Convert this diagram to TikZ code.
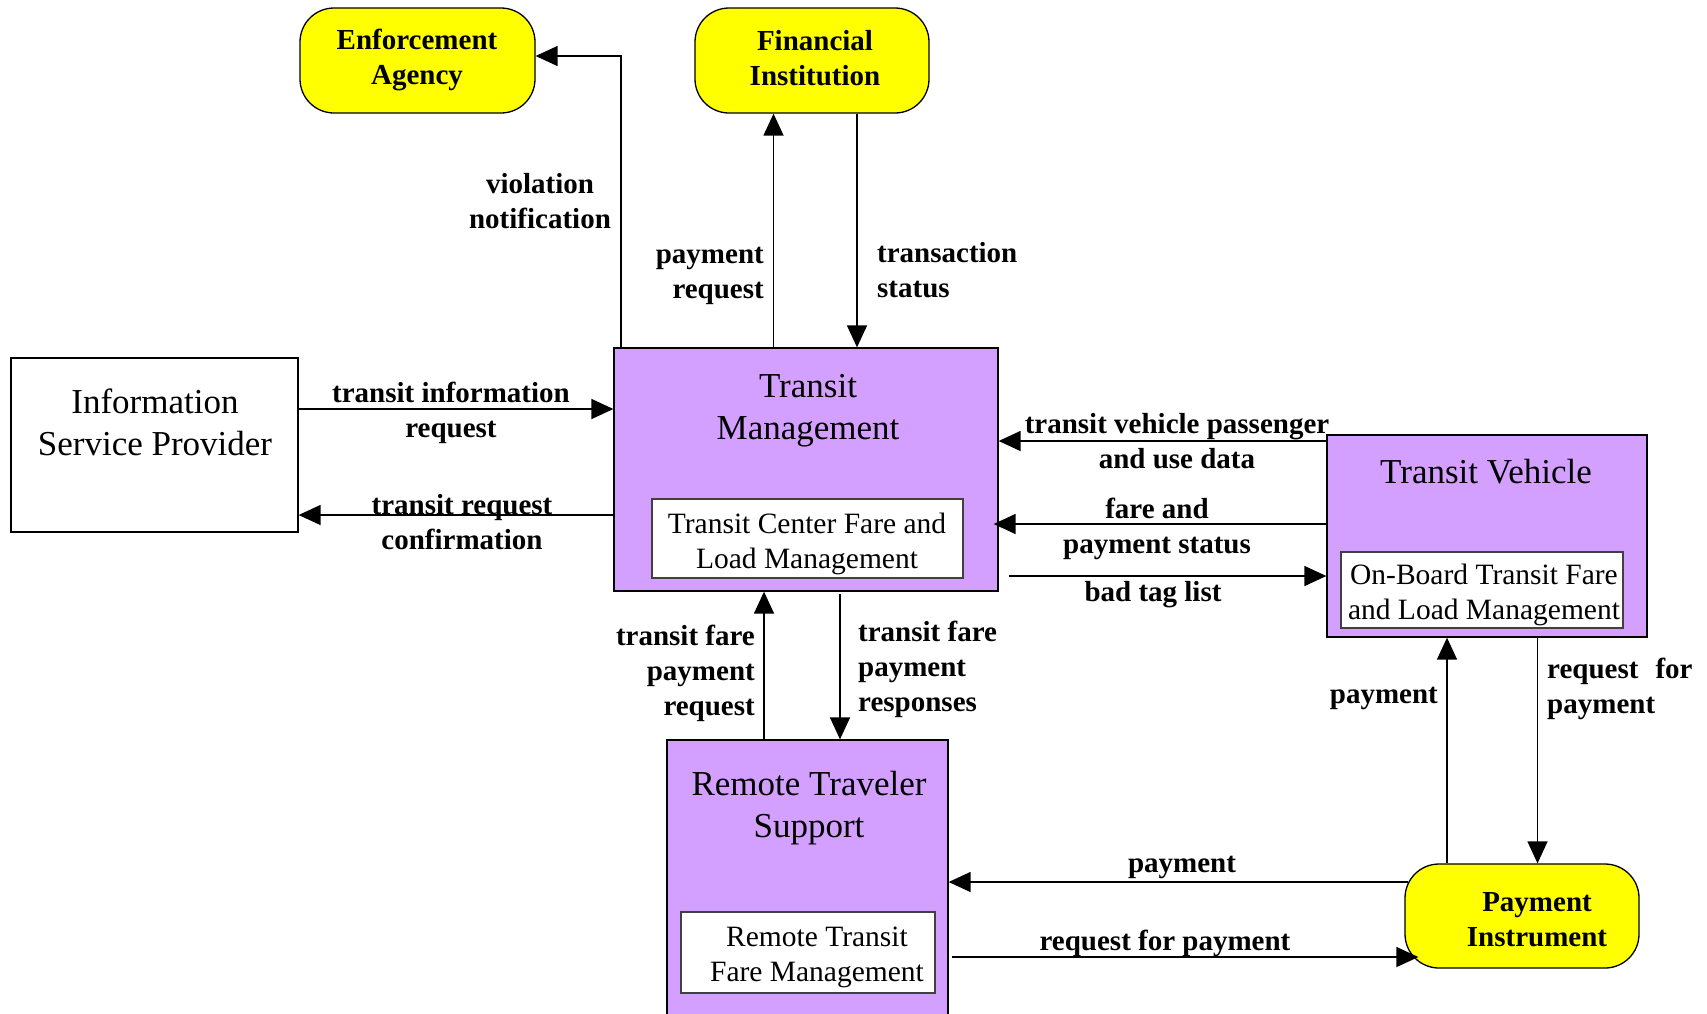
\documentclass[tikz,border=0pt]{standalone}
\usepackage{fontspec}
\setmainfont{Liberation Serif}
\usetikzlibrary{arrows.meta}
\definecolor{procfill}{RGB}{212,160,255}
\definecolor{termfill}{RGB}{255,255,0}
\begin{document}
\begin{tikzpicture}[x=1pt,y=-1pt,
  proc/.style={draw=black,line width=1.3pt,fill=procfill,inner sep=0pt},
  term/.style={draw=black,line width=1.3pt,fill=termfill,rounded corners=34pt,inner sep=0pt},
  sub/.style={draw=black!75,line width=1.2pt,fill=white,inner sep=0pt},
  title/.style={font=\fontsize{35}{42}\selectfont,align=center,inner sep=0pt},
  subtext/.style={font=\fontsize{29.5}{35}\selectfont,align=center,inner sep=0pt},
  flow/.style={font=\fontsize{29}{35}\selectfont\bfseries,inner sep=0pt},
  arr/.style={line width=1.5pt,-{Triangle[length=22pt,width=20pt]}}
]
\useasboundingbox (0,0) rectangle (1707,1013);
\fill[white] (0,0) rectangle (1707,1013);
\clip (0,0) rectangle (1707,1013);

% terminators
\node[term,minimum width=235pt,minimum height=105pt] (ea) at (417.5,60.5) {};
\node[flow,align=center] (eatext) at (417,60) {Enforcement\\Agency};
\node[term,minimum width=234pt,minimum height=105pt] (fi) at (812,60.5) {};
\node[flow,align=center] (fitext) at (815,58) {Financial\\Institution};
\node[term,minimum width=234pt,minimum height=104pt] (pi) at (1522,916) {};
\node[flow,align=center] (pitext) at (1537,920) {Payment\\Instrument};

% information service provider
\node[draw=black,line width=1.3pt,fill=white,minimum width=287pt,minimum height=174pt,inner sep=0pt] (isp) at (154.5,445) {};
\node[title] (isptext) at (155,422) {Information\\Service Provider};

% transit management
\node[proc,minimum width=384pt,minimum height=243pt] (tm) at (806,469.5) {};
\node[title] (tmtext) at (808,411) {Transit\\Management};
\node[sub,minimum width=311pt,minimum height=79pt] (tmsub) at (807.5,538.5) {};
\node[subtext] (tmsubtext) at (807,544) {Transit Center Fare and\\Load Management};

% transit vehicle
\node[proc,minimum width=320pt,minimum height=202pt] (tv) at (1487,536) {};
\node[title] (tvtext) at (1486,472) {Transit Vehicle};
\node[sub,minimum width=282pt,minimum height=76pt] (tvsub) at (1482,590) {};
\node[subtext] (tvsubtext) at (1484,594.5) {On-Board Transit Fare\\and Load Management};

% remote traveler support
\node[proc,minimum width=281pt,minimum height=330pt] (rts) at (807.5,905) {};
\node[title] (rtstext) at (809,808) {Remote Traveler\\Support};
\node[sub,minimum width=254pt,minimum height=81pt] (rtssub) at (808,952.5) {};
\node[subtext] (rtssubtext) at (817,957) {Remote Transit\\Fare Management};

% connector positions
\coordinate (xviol) at (621,0);
\coordinate (xpreq) at (773.5,0);
\coordinate (xtstat) at (857,0);
\coordinate (xtfreq) at (764,0);
\coordinate (xtfresp) at (840,0);
\coordinate (xpay) at (1447,0);
\coordinate (xrfp) at (1537.5,0);
\coordinate (ytir) at (0,409);
\coordinate (ytrc) at (0,515);
\coordinate (ytvp) at (0,441);
\coordinate (yfps) at (0,524);
\coordinate (ybtl) at (0,576);
\coordinate (yrpay) at (0,882);
\coordinate (yrrfp) at (0,957);

% flows
\draw[arr] (xviol |- tm.north) |- ([yshift=4.5pt]ea.east);
\draw[arr] (xpreq |- tm.north) -- (xpreq |- fi.south);
\draw[arr] (xtstat |- fi.south) -- (xtstat |- tm.north);
\draw[arr] (isp.east |- ytir) -- (tm.west |- ytir);
\draw[arr] (tm.west |- ytrc) -- (isp.east |- ytrc);
\draw[arr] (tv.west |- ytvp) -- (tm.east |- ytvp);
\draw[arr,shorten >=-5pt] (tv.west |- yfps) -- (tm.east |- yfps);
\draw[arr,shorten <=10pt] (tm.east |- ybtl) -- (tv.west |- ybtl);
\draw[arr] (xtfreq |- rts.north) -- (xtfreq |- tm.south);
\draw[arr,shorten <=2pt] (xtfresp |- tm.south) -- (xtfresp |- rts.north);
\draw[arr] (xpay |- pi.north) -- (xpay |- tv.south);
\draw[arr] (xrfp |- tv.south) -- (xrfp |- pi.north);
\draw[arr,shorten <=-4pt] (pi.west |- yrpay) -- (rts.east |- yrpay);
\draw[arr,shorten <=3pt,shorten >=-14pt] (rts.east |- yrrfp) -- (pi.west |- yrrfp);

% flow labels
\node[flow,align=center] (lviol) at (540,201) {violation\\notification};
\node[flow,align=right,anchor=east] (lpreq) at (764,276) {payment\\request};
\node[flow,align=left,anchor=west] (ltstat) at (877,270) {transaction\\status};
\node[flow,align=center] (ltir) at (451,413) {transit information\\request};
\node[flow,align=center] (ltrc) at (462,522) {transit request\\confirmation};
\node[flow,align=center] (ltvp) at (1177,441) {transit vehicle passenger\\and use data};
\node[flow,align=center] (lfps) at (1157,529) {fare and\\payment status};
\node[flow] (lbtl) at (1153,595) {bad tag list};
\node[flow,align=right,anchor=east] (ltfreq) at (755,673) {transit fare\\payment\\request};
\node[flow,align=left,anchor=west] (ltfresp) at (858,669) {transit fare\\payment\\responses};
\node[flow,anchor=east] (lpay) at (1438,698) {payment};
\node[flow,align=left,anchor=west] (lrfp) at (1547,689) {request\hspace{17pt}for\\payment};
\node[flow] (lrpay) at (1182,867) {payment};
\node[flow] (lrrfp) at (1165,943) {request for payment};
\end{tikzpicture}
\end{document}
